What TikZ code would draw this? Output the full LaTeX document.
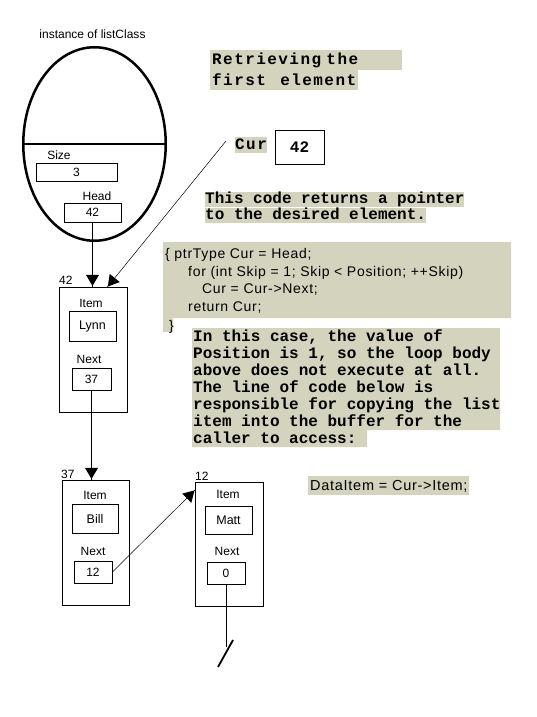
\documentclass[tikz,border=0pt]{standalone}
\usepackage{fontspec}
\setmainfont{Liberation Sans}
\newfontfamily\monobold{Liberation Mono}
\newfontfamily\titlemono[LetterSpace=9, WordSpace=1.3]{Liberation Mono}
\newfontfamily\codesans[LetterSpace=5]{Liberation Sans}
\usetikzlibrary{arrows.meta, positioning, shapes.geometric}
\definecolor{hilite}{RGB}{212,212,190}

\begin{document}
\begin{tikzpicture}[x=1pt, y=1pt,
    recbox/.style = {
        draw, line width=0.8pt, anchor=north west, inner sep=0pt,
        minimum width=67pt, minimum height=125pt
    },
    valbox/.style = {
        draw, line width=0.8pt, inner sep=0pt,
        font=\fontsize{12}{14}\selectfont
    },
    fieldlbl/.style = {anchor=base, inner sep=0pt, font=\fontsize{12}{14}\selectfont},
    addr/.style = {anchor=base west, inner sep=0pt, font=\fontsize{12}{14}\selectfont},
    titlebar/.style = {
        fill=hilite, anchor=base west, align=left, inner xsep=2pt, inner ysep=0pt,
        text height=15pt, text depth=5pt,
        font=\titlemono\bfseries\fontsize{16}{17}\selectfont
    },
    hlmono/.style = {
        fill=hilite, anchor=base west, inner sep=0pt,
        text height=11.5pt, text depth=4.25pt,
        font=\monobold\bfseries\fontsize{16}{17}\selectfont
    },
    codeline/.style = {anchor=base west, inner sep=0pt, font=\codesans\fontsize{14}{17}\selectfont},
    tipmark/.style = {
        isosceles triangle, isosceles triangle stretches, fill=black, inner sep=0pt,
        minimum width=13pt, minimum height=11pt,
        sloped, allow upside down, anchor=apex, pos=1
    },
]
\useasboundingbox (0,0) rectangle (536,-717);

%% ── Highlight panels ─────────────────────────────────────────────────
\fill[hilite] (163,-242) rectangle (511,-318) (163,-318) rectangle (173,-332);
\fill[hilite] (192,-328) rectangle (500,-430) (192,-430) rectangle (367,-447);

%% ── Instance of listClass ────────────────────────────────────────────
\node[fieldlbl] (instlbl) at (92.5,-38) {instance of listClass};
\node[draw, ellipse, line width=2.5pt, inner sep=0pt,
      minimum width=142.5pt, minimum height=193.5pt] (inst) at (94.5,-144) {};
\draw[line width=2.5pt] (inst.west) -- (inst.east);

\node[fieldlbl] (sizelbl) at (59,-159) {Size};
\node[valbox, minimum width=81pt, minimum height=18pt] (sizeval) at (76.5,-172) {3};
\node[fieldlbl] (headlbl) at (97,-200) {Head};
\node[valbox, minimum width=57pt, minimum height=19pt] (headval) at (92.5,-212.5) {42};

%% ── Title and Cur ────────────────────────────────────────────────────
\node[titlebar, text width=188pt] (titleA) at (210,-65) {Retrieving the};
\node[titlebar] (titleB) at (210,-85) {first element};

\node[titlebar, inner xsep=0pt, text height=12pt, text depth=4pt] (cur) at (235,-149) {Cur};
\node[draw, line width=0.8pt, minimum width=49pt, minimum height=34pt,
      font=\monobold\bfseries\fontsize{16}{17}\selectfont] (curval) at (299.5,-147) {42};
\coordinate (curtail) at (226,-141);

%% ── Comments and code ────────────────────────────────────────────────
\node[hlmono] (noteA) at (205,-203) {This code returns a pointer};
\node[hlmono] (noteB) at (205,-219) {to the desired element.};

\node[codeline] (codeA) at (165,-258) {\{ ptrType Cur = Head;};
\node[codeline] (codeB) at (188,-276) {for (int Skip = 1; Skip < Position; ++Skip)};
\node[codeline] (codeC) at (202,-293) {Cur = Cur->Next;};
\node[codeline] (codeD) at (188,-311) {return Cur;};
\node[codeline] (codeE) at (169,-330) {\}};

\node[anchor=north west, align=left, inner sep=0pt,
      font=\monobold\bfseries\fontsize{16}{17}\selectfont] (why) at (193,-329.5)
  {In this case, the value of\\
   Position is 1, so the loop body\\
   above does not execute at all.\\
   The line of code below is\\
   responsible for copying the list\\
   item into the buffer for the\\
   caller to access:};

\node[codeline, fill=hilite, inner xsep=2pt, text height=14pt, text depth=5pt,
      font=\codesans\fontsize{14.5}{17}\selectfont] (dataitem) at (308,-490) {DataItem = Cur->Item;};

%% ── List nodes ───────────────────────────────────────────────────────
\node[addr] (a42) at (59,-284) {42};
\node[recbox, minimum width=68pt] (n42) at (59,-287) {};
\node[fieldlbl] (itemA) at (91,-307) {Item};
\node[valbox, minimum width=47pt, minimum height=30pt, font=\fontsize{12.5}{14}\selectfont] (lynn) at (92.5,-326) {Lynn};
\node[fieldlbl] (nextA) at (89,-363) {Next};
\node[valbox, minimum width=39pt, minimum height=22pt] (ptrA) at (91.5,-379) {37};

\node[addr] (a37) at (61,-478) {37};
\node[recbox] (n37) at (62,-480) {};
\node[fieldlbl] (itemB) at (95,-499) {Item};
\node[valbox, minimum width=46pt, minimum height=29pt, font=\fontsize{12.5}{14}\selectfont] (bill) at (95,-518.5) {Bill};
\node[fieldlbl] (nextB) at (93,-555) {Next};
\node[valbox, minimum width=38pt, minimum height=22pt] (ptrB) at (93,-572) {12};

\node[addr] (a12) at (195,-480) {12};
\node[recbox, minimum width=68pt, minimum height=124pt] (n12) at (195,-482) {};
\node[fieldlbl] (itemC) at (228,-498) {Item};
\node[valbox, minimum width=47pt, minimum height=28pt, font=\fontsize{12.5}{14}\selectfont] (matt) at (228.5,-520) {Matt};
\node[fieldlbl] (nextC) at (227,-555) {Next};
\node[valbox, minimum width=38pt, minimum height=22pt] (ptrC) at (226,-573) {0};
\coordinate (gnd) at (226,-647);

%% ── Pointers ─────────────────────────────────────────────────────────
\draw[line width=0.8pt] (headval.south) -- node[tipmark] (tipA) {} (headval.south |- n42.north);
\draw[line width=0.5pt] (curtail) -- node[tipmark] (tipB) {} ([xshift=14pt]n42.north);
\draw[line width=0.8pt] (ptrA.south) -- node[tipmark] (tipC) {} (ptrA.south |- n37.north);
\draw[line width=0.5pt] (ptrB.east) -- node[tipmark] (tipD) {} ([yshift=-8pt]n12.north west);
\draw[line width=0.8pt] (ptrC.south) -- (gnd);
\draw[line width=1.8pt] ([shift={(-8,-20)}]gnd) -- ([shift={(7,7)}]gnd);

\end{tikzpicture}
\end{document}
